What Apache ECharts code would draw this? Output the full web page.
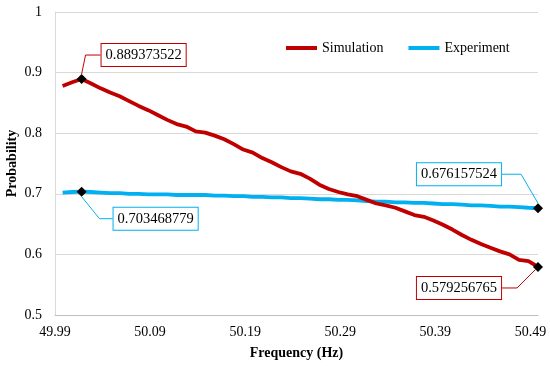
<!DOCTYPE html>
<html>
<head>
<meta charset="utf-8">
<script src="https://cdn.jsdelivr.net/npm/echarts@6/dist/echarts.min.js"></script>
<style>html,body{margin:0;padding:0;background:#fff}#c{width:550px;height:366px}</style>
</head>
<body>
<div id="c"></div>
<script>
const freq = [49.998,50.008,50.018,50.028,50.038,50.048,50.058,50.068,50.078,50.088,
  50.098,50.108,50.118,50.128,50.138,50.148,50.158,50.168,50.178,50.188,
  50.198,50.208,50.218,50.228,50.238,50.248,50.258,50.268,50.278,50.288,
  50.298,50.308,50.318,50.328,50.338,50.348,50.358,50.368,50.378,50.388,
  50.398,50.408,50.418,50.428,50.438,50.448,50.458,50.468,50.478,50.488,50.498];
const simulation = [0.878,0.884,0.889373522,0.882,0.874,0.867,0.861,0.853,0.845,0.838,
  0.830,0.822,0.815,0.811,0.803,0.801,0.796,0.790,0.782,0.773,
  0.768,0.759,0.752,0.744,0.737,0.733,0.725,0.715,0.708,0.703,
  0.699,0.696,0.690,0.684,0.681,0.677,0.671,0.665,0.662,0.656,
  0.649,0.641,0.632,0.624,0.617,0.611,0.605,0.600,0.591,0.589,0.579256765];
const experiment = [0.702,0.703,0.703468779,0.703,0.702,0.701,0.701,0.700,0.700,0.699,
  0.699,0.699,0.698,0.698,0.698,0.698,0.697,0.697,0.696,0.696,
  0.695,0.695,0.694,0.694,0.693,0.693,0.692,0.691,0.691,0.690,
  0.690,0.689,0.688,0.687,0.687,0.686,0.686,0.685,0.685,0.684,
  0.683,0.683,0.682,0.681,0.681,0.680,0.679,0.679,0.678,0.677,0.676157524];
const xTickLabels = [49.99, 50.09, 50.19, 50.29, 50.39, 50.49];
const yTicks = {min: 0.5, max: 1, step: 0.1};
const seriesNames = ['Simulation', 'Experiment'];
const simCallout = [2, 50];
const expCallout = [2, 50];

const FONT = 'Liberation Serif';
const RED = '#C00000', BLUE = '#00B0F0';

function buildData(values, callouts, color, elbows) {
  return values.map((v, i) => {
    const k = callouts.indexOf(i);
    if (k < 0) return [freq[i], v];
    return {
      value: [freq[i], v], symbol: 'diamond', symbolSize: 10,
      itemStyle: {color: '#000'},
      label: {
        show: true, position: 'inside',
        formatter: p => String(p.value[1]),
        fontFamily: FONT, fontSize: 14.5, color: '#000',
        backgroundColor: '#fff', borderColor: color, borderWidth: 1,
        padding: [4, 4, 3, 4]
      },
      labelLine: {show: true, length2: elbows[k], minTurnAngle: 0,
        lineStyle: {color: color, width: 1}}
    };
  });
}
// label displacement (px) for each callout, in callout order
const simShift = [[62, -24], [-79, 21]];
const expShift = [[74, 27], [-79, -34]];
function layoutFor(callouts, shifts) {
  return p => {
    const k = callouts.indexOf(p.dataIndex);
    if (k < 0) return {};
    return {dx: shifts[k][0], dy: shifts[k][1]};
  };
}

const chart = echarts.init(document.getElementById('c'));
chart.setOption({
  animation: false,
  textStyle: {fontFamily: FONT},
  grid: {left: 55, right: 12, top: 12, bottom: 51, containLabel: false, outerBoundsMode: 'none'},
  legend: {
    data: seriesNames, left: 281, top: 36, icon: 'rect',
    itemWidth: 31, itemHeight: 4, itemGap: 25,
    textStyle: {fontFamily: FONT, fontSize: 14, color: '#000'}
  },
  xAxis: {
    type: 'value', min: 49.99, max: 50.498,
    name: 'Frequency (Hz)', nameLocation: 'middle', nameGap: 31, nameMoveOverlap: false,
    nameTextStyle: {fontFamily: FONT, fontSize: 14, fontWeight: 'bold', color: '#000'},
    axisLine: {show: true, lineStyle: {color: '#bfbfbf', width: 1}},
    axisTick: {show: false},
    splitLine: {show: false},
    axisLabel: {customValues: xTickLabels, formatter: v => v.toFixed(2),
      fontFamily: FONT, fontSize: 14, color: '#000', margin: 10}
  },
  yAxis: {
    type: 'value', min: yTicks.min, max: yTicks.max, interval: yTicks.step,
    name: 'Probability', nameLocation: 'middle', nameGap: 36, nameRotate: 90, nameMoveOverlap: false,
    nameTextStyle: {fontFamily: FONT, fontSize: 14, fontWeight: 'bold', color: '#000'},
    axisLine: {show: true, lineStyle: {color: '#d9d9d9', width: 1}},
    axisTick: {show: false},
    splitLine: {show: true, lineStyle: {color: '#d9d9d9', width: 1}},
    axisLabel: {fontFamily: FONT, fontSize: 14, color: '#000', margin: 13}
  },
  series: [
    {name: seriesNames[0], type: 'line', symbol: 'none', showSymbol: true,
     lineStyle: {color: RED, width: 3.8}, itemStyle: {color: RED},
     labelLayout: layoutFor(simCallout, simShift),
     data: buildData(simulation, simCallout, RED, [15, 15]), z: 3},
    {name: seriesNames[1], type: 'line', symbol: 'none', showSymbol: true,
     lineStyle: {color: BLUE, width: 3.8}, itemStyle: {color: BLUE},
     labelLayout: layoutFor(expCallout, expShift),
     data: buildData(experiment, expCallout, BLUE, [13, 19]), z: 2}
  ]
});
</script>
</body>
</html>
